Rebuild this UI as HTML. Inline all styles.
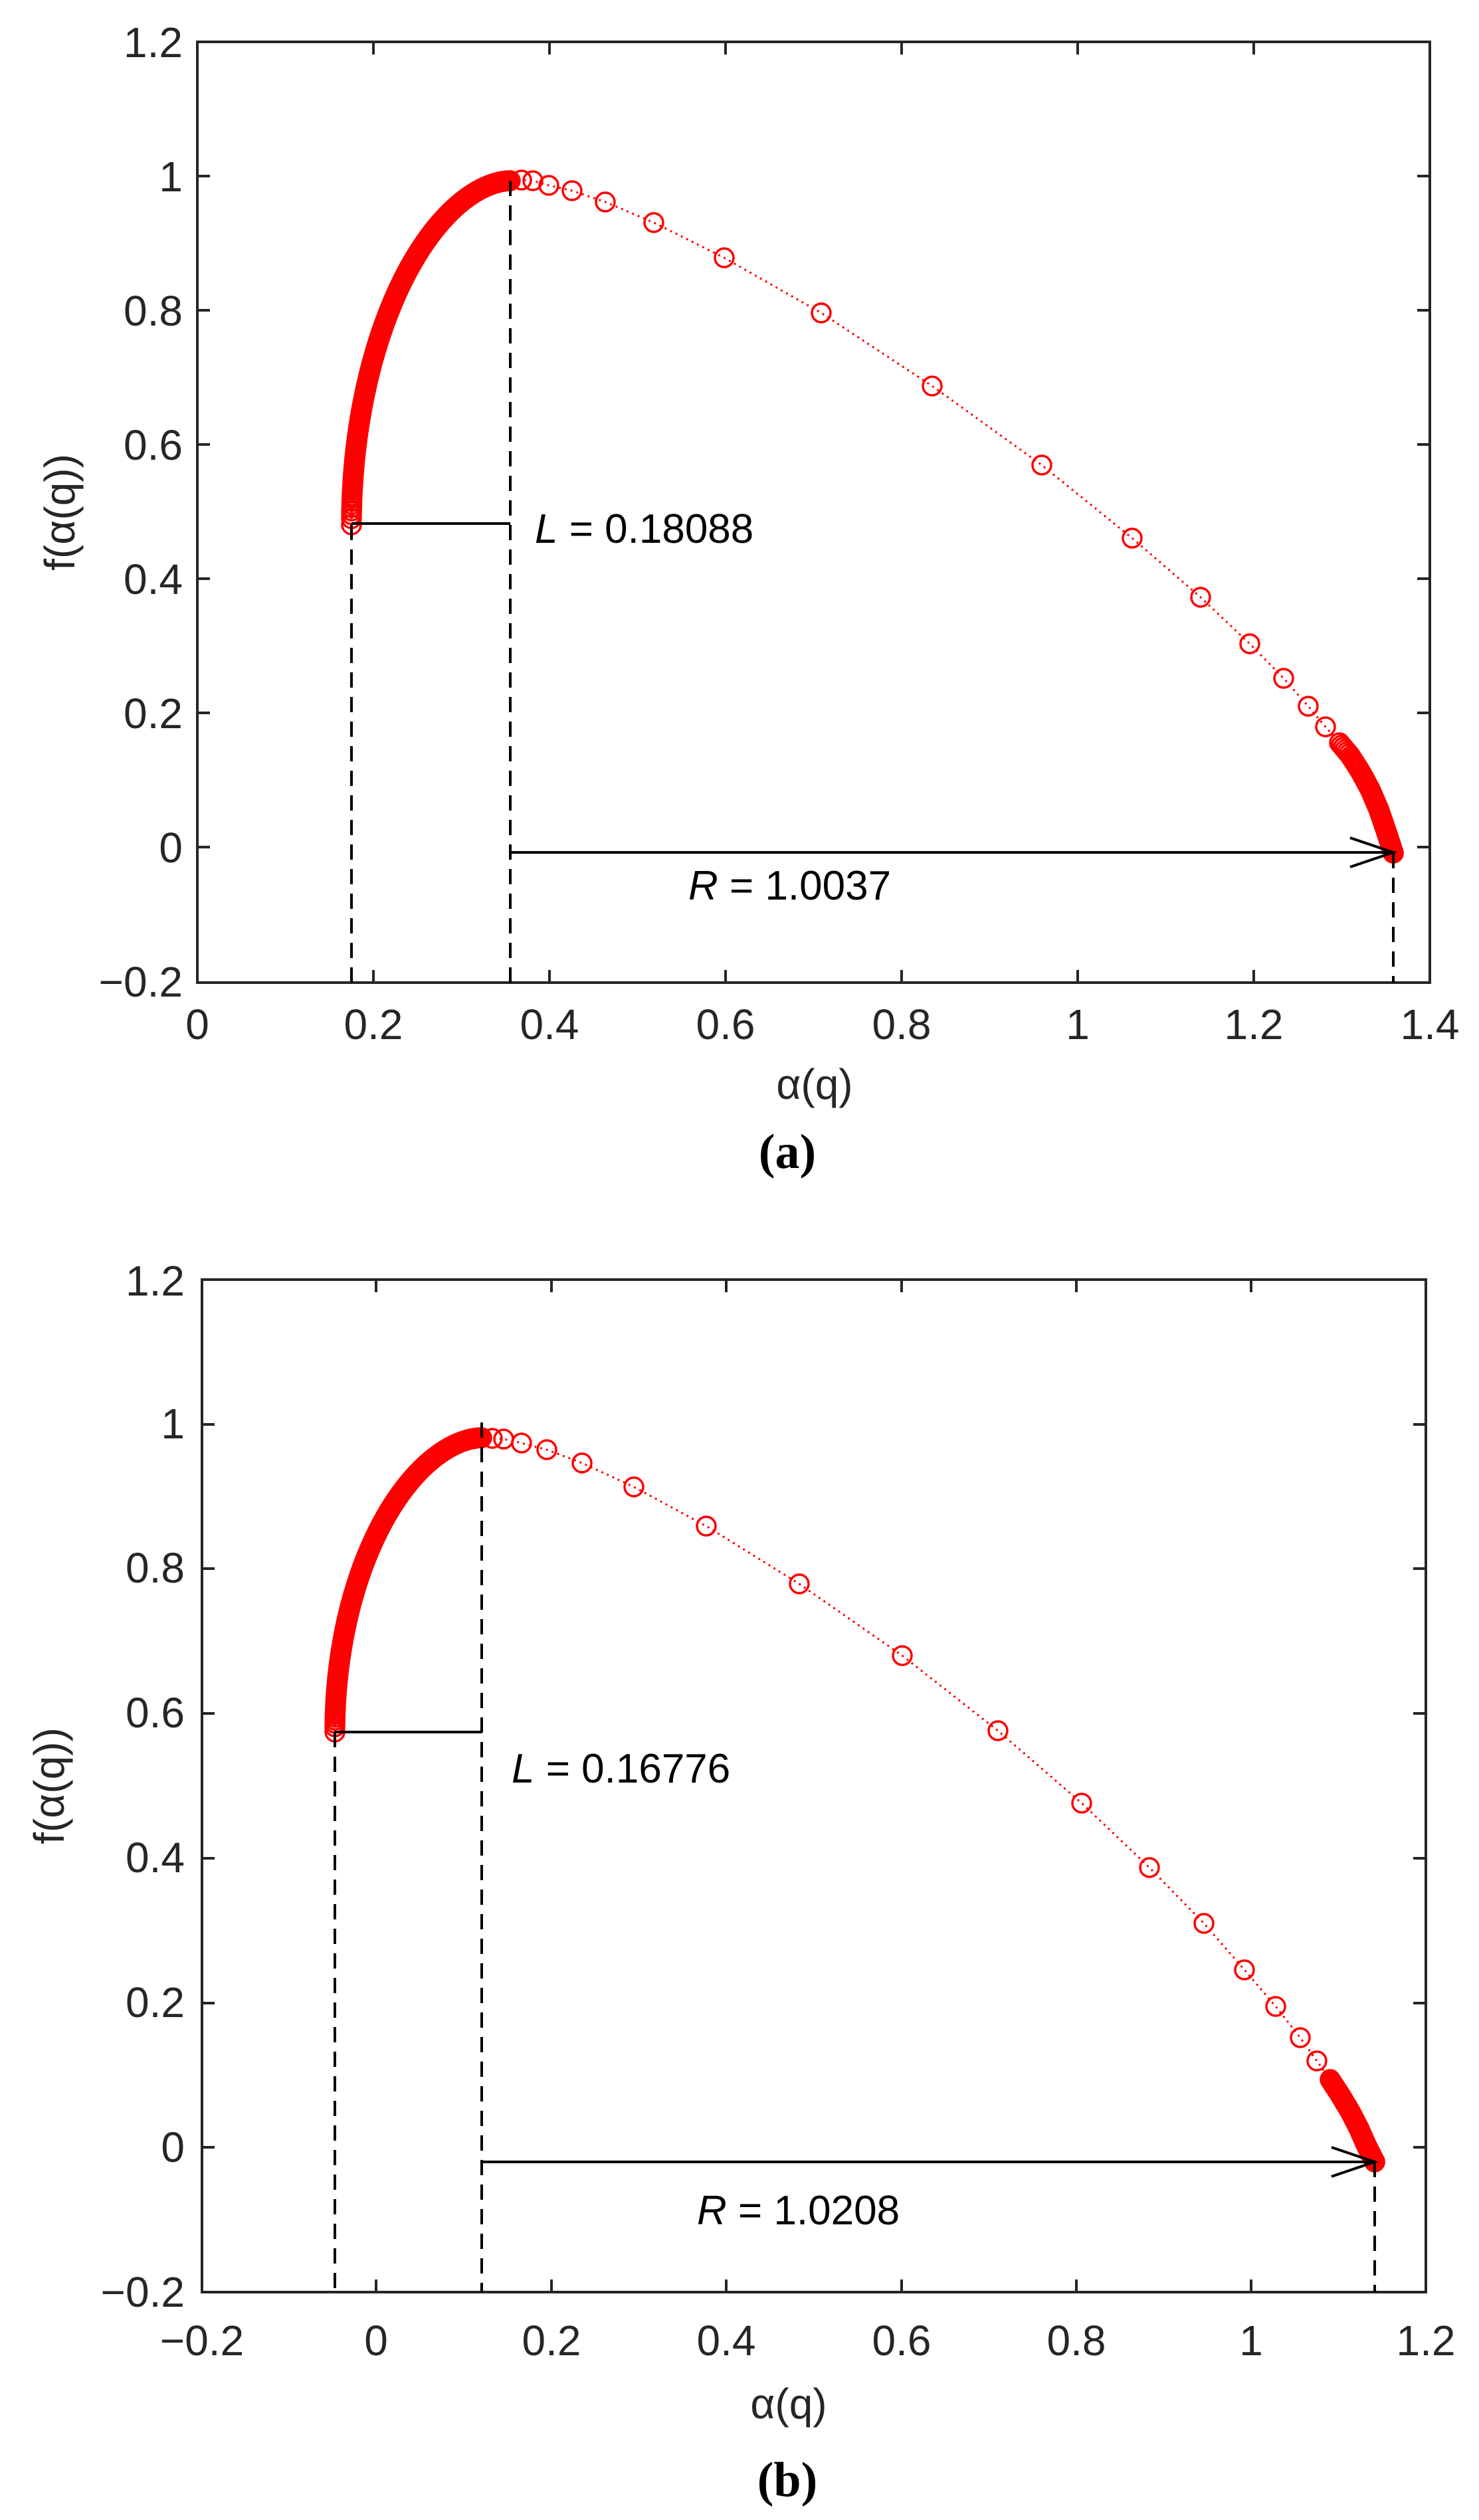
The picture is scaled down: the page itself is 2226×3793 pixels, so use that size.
<!DOCTYPE html>
<html><head><meta charset="utf-8"><style>
html,body{margin:0;padding:0;background:#fff;}
svg{display:block;}
.tk{font-family:"Liberation Sans",Arial,sans-serif;font-size:64px;fill:#262626;}
.an{font-family:"Liberation Sans",Arial,sans-serif;font-size:62px;fill:#000;}
.cap{font-family:"Liberation Serif",serif;font-size:74px;font-weight:bold;fill:#000;}
</style></head><body>
<svg id="s" width="2226" height="3793" viewBox="0 0 2226 3793" xmlns="http://www.w3.org/2000/svg">
<rect width="2226" height="3793" fill="#fff"/>
<g id="g"></g>
<g class="tk" text-anchor="end">
<text x="275" y="86">1.2</text><text x="275" y="288">1</text><text x="275" y="490">0.8</text>
<text x="275" y="692">0.6</text><text x="275" y="894">0.4</text><text x="275" y="1096">0.2</text>
<text x="275" y="1298">0</text><text x="275" y="1500">−0.2</text>
</g>
<g class="tk" text-anchor="middle">
<text x="297" y="1564">0</text><text x="562" y="1564">0.2</text><text x="827" y="1564">0.4</text>
<text x="1092" y="1564">0.6</text><text x="1357" y="1564">0.8</text><text x="1622" y="1564">1</text>
<text x="1887" y="1564">1.2</text><text x="2152" y="1564">1.4</text>
<text x="1226" y="1654">α(q)</text>
<text transform="translate(112,771) rotate(-90)">f(α(q))</text>
</g>
<text class="an" x="805" y="817"><tspan font-style="italic">L</tspan> = 0.18088</text>
<text class="an" x="1036" y="1354"><tspan font-style="italic">R</tspan> = 1.0037</text>
<text class="cap" x="1185" y="1758" text-anchor="middle">(a)</text>
<g class="tk" text-anchor="end">
<text x="278" y="1950">1.2</text><text x="278" y="2165">1</text><text x="278" y="2382">0.8</text>
<text x="278" y="2600">0.6</text><text x="278" y="2818">0.4</text><text x="278" y="3036">0.2</text>
<text x="278" y="3254">0</text><text x="278" y="3472">−0.2</text>
</g>
<g class="tk" text-anchor="middle">
<text x="304" y="3545">−0.2</text><text x="566" y="3545">0</text><text x="830" y="3545">0.2</text>
<text x="1093" y="3545">0.4</text><text x="1357" y="3545">0.6</text><text x="1620" y="3545">0.8</text>
<text x="1883" y="3545">1</text><text x="2146" y="3545">1.2</text>
<text x="1187" y="3640">α(q)</text>
<text transform="translate(96,2688) rotate(-90)">f(α(q))</text>
</g>
<text class="an" x="770" y="2683"><tspan font-style="italic">L</tspan> = 0.16776</text>
<text class="an" x="1049" y="3348"><tspan font-style="italic">R</tspan> = 1.0208</text>
<text class="cap" x="1185" y="3757" text-anchor="middle">(b)</text>
</svg>
<script>
(function(){
var g=document.getElementById("g"),h="";
function axes(L,R,T,B,xt,yt){
 h+='<rect x="'+L+'" y="'+T+'" width="'+(R-L)+'" height="'+(B-T)+'" fill="none" stroke="#262626" stroke-width="4"/>';
 xt.forEach(function(x){h+='<line x1="'+x+'" y1="'+B+'" x2="'+x+'" y2="'+(B-19)+'" stroke="#262626" stroke-width="4"/><line x1="'+x+'" y1="'+T+'" x2="'+x+'" y2="'+(T+19)+'" stroke="#262626" stroke-width="4"/>';});
 yt.forEach(function(y){h+='<line x1="'+L+'" y1="'+y+'" x2="'+(L+19)+'" y2="'+y+'" stroke="#262626" stroke-width="4"/><line x1="'+R+'" y1="'+y+'" x2="'+(R-19)+'" y2="'+y+'" stroke="#262626" stroke-width="4"/>';});
}
function endInterp(list,n){
 // cumulative length, points denser toward end
 var seg=[0];for(var i=1;i<list.length;i++){seg.push(seg[i-1]+Math.hypot(list[i][0]-list[i-1][0],list[i][1]-list[i-1][1]));}
 var tot=seg[seg.length-1],o=[];
 for(var k=0;k<=n;k++){var s=k/n;var d=tot*(1-Math.pow(1-s,2.2));
  var j=1;while(j<seg.length-1&&seg[j]<d)j++;
  var t=(d-seg[j-1])/(seg[j]-seg[j-1]||1);
  o.push([list[j-1][0]+(list[j][0]-list[j-1][0])*t,list[j-1][1]+(list[j][1]-list[j-1][1])*t]);}
 return o;
}
function series(xl,yl,xp,yp,sparse,endl){
 var pts=[],N=320;
 for(var i=0;i<=N;i++){var s=i/N;var x=xl+(xp-xl)*Math.pow(s,1.5);var u=(xp-x)/(xp-xl);
  var y=yl-(yl-yp)*Math.pow(Math.max(0,1-Math.pow(u,1.8)),0.5);pts.push([x,y]);}
 pts=pts.concat(sparse);pts=pts.concat(endInterp(endl,90));
 var d="M"+pts.map(function(p){return p[0].toFixed(1)+","+p[1].toFixed(1);}).join(" L");
 h+='<path d="'+d+'" fill="none" stroke="#ff0000" stroke-width="3" stroke-dasharray="3 6"/>';
 pts.forEach(function(p){h+='<circle cx="'+p[0].toFixed(1)+'" cy="'+p[1].toFixed(1)+'" r="14" fill="none" stroke="#ff0000" stroke-width="3.5"/>';});
}
function dash(x,y1,y2){h+='<line x1="'+x+'" y1="'+y1+'" x2="'+x+'" y2="'+y2+'" stroke="#000" stroke-width="4" stroke-dasharray="23 14"/>';}
function hline(x1,x2,y){h+='<line x1="'+x1+'" y1="'+y+'" x2="'+x2+'" y2="'+y+'" stroke="#000" stroke-width="4"/>';}
function arrow(x1,x2,y){hline(x1,x2,y);h+='<polyline points="'+(x2-65)+','+(y-22)+' '+x2+','+y+' '+(x2-65)+','+(y+22)+'" fill="none" stroke="#000" stroke-width="4"/>';}
axes(297,2152,63,1479,[297,562,827,1092,1357,1622,1887,2152],[63,265,467,669,871,1073,1275,1479]);
series(529,790,768,272,[[785,271],[802,272],[826,279],[861,287],[911,304],[984,335],[1090,388],[1236,471],[1403,581],[1568,700],[1704,810],[1807,899],[1881,969],[1932,1021],[1969,1063],[1995,1094]],
 [[2016,1118],[2032,1137],[2048,1162],[2062,1188],[2075,1218],[2086,1250],[2097,1284]]);
dash(529,790,1479);dash(768,272,1479);dash(2097,1284,1479);
hline(529,768,788);arrow(768,2097,1283);
axes(304,2146,1926,3450,[304,566,830,1093,1357,1620,1883,2146],[1926,2144,2361,2579,2797,3015,3232,3450]);
series(504,2607,725,2164,[[741,2165],[758,2166],[785,2172],[823,2182],[876,2202],[954,2238],[1063,2297],[1203,2384],[1358,2492],[1502,2605],[1628,2714],[1730,2811],[1812,2895],[1873,2965],[1920,3020],[1957,3067],[1982,3102]],
 [[2002,3130],[2017,3153],[2032,3178],[2045,3203],[2056,3228],[2069,3254]]);
dash(504,2607,3450);dash(725,2141,3450);dash(2069,3254,3450);
hline(504,725,2607);arrow(725,2069,3254);
g.innerHTML=h;
})();
</script>
</body></html>
